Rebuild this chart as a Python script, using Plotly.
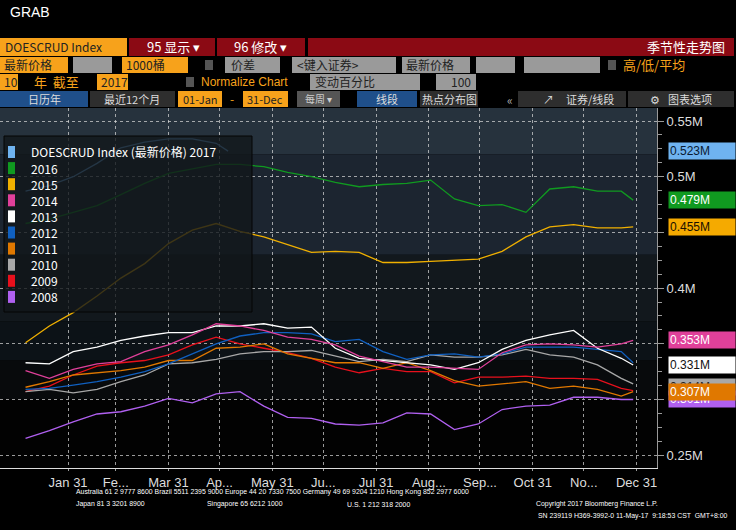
import plotly.graph_objects as go

DATES = ["2017-01-06","2017-01-20","2017-02-03","2017-02-17","2017-03-03","2017-03-17","2017-03-31",
         "2017-04-14","2017-04-28","2017-05-12","2017-05-26","2017-06-09","2017-06-23","2017-07-07",
         "2017-07-21","2017-08-04","2017-08-18","2017-09-01","2017-09-15","2017-09-29","2017-10-13",
         "2017-10-27","2017-11-10","2017-11-24","2017-12-08","2017-12-22","2017-12-29"]
DATES_2017 = DATES[:9] + ["2017-05-05"]

Y2017 = [0.487,0.492,0.500,0.512,0.526,0.531,0.534,0.534,0.530,0.523]
Y2016 = [0.458,0.462,0.468,0.474,0.484,0.494,0.503,0.507,0.511,0.511,0.509,0.504,0.500,0.495,0.491,0.493,0.494,0.497,0.480,0.474,0.475,0.468,0.489,0.491,0.487,0.487,0.479]
Y2015 = [0.351,0.366,0.378,0.393,0.409,0.422,0.440,0.452,0.458,0.451,0.446,0.439,0.432,0.433,0.432,0.423,0.423,0.424,0.425,0.426,0.433,0.446,0.455,0.457,0.454,0.454,0.455]
Y2014 = [0.326,0.319,0.327,0.332,0.334,0.343,0.349,0.358,0.368,0.366,0.362,0.356,0.354,0.349,0.339,0.334,0.329,0.329,0.328,0.327,0.342,0.349,0.350,0.349,0.347,0.350,0.353]
Y2013 = [0.333,0.332,0.343,0.347,0.353,0.357,0.360,0.360,0.366,0.366,0.368,0.364,0.365,0.346,0.337,0.335,0.333,0.331,0.327,0.333,0.345,0.353,0.358,0.362,0.346,0.337,0.331]
Y2012 = [0.309,0.310,0.313,0.316,0.320,0.325,0.332,0.341,0.350,0.357,0.360,0.360,0.359,0.352,0.354,0.343,0.336,0.340,0.341,0.338,0.341,0.347,0.347,0.347,0.345,0.343,0.333]
Y2011 = [0.311,0.316,0.322,0.324,0.326,0.329,0.335,0.335,0.346,0.347,0.350,0.341,0.337,0.333,0.333,0.328,0.333,0.326,0.317,0.312,0.314,0.316,0.310,0.312,0.309,0.303,0.307]
Y2010 = [0.307,0.309,0.306,0.309,0.316,0.322,0.332,0.333,0.336,0.341,0.343,0.343,0.344,0.339,0.334,0.336,0.334,0.340,0.338,0.338,0.340,0.345,0.340,0.338,0.331,0.319,0.314]
Y2009 = [0.307,0.312,0.322,0.330,0.333,0.335,0.340,0.349,0.356,0.350,0.346,0.342,0.337,0.329,0.324,0.328,0.325,0.325,0.315,0.320,0.320,0.321,0.319,0.319,0.318,0.310,0.308]
Y2008 = [0.265,0.272,0.280,0.287,0.289,0.294,0.301,0.297,0.305,0.307,0.294,0.284,0.283,0.278,0.277,0.279,0.288,0.287,0.273,0.278,0.291,0.294,0.295,0.302,0.302,0.300,0.300]

SERIES = [("2008",Y2008,"#b060f0"),("2009",Y2009,"#e8101c"),("2010",Y2010,"#a8a8a8"),
          ("2011",Y2011,"#e07800"),("2012",Y2012,"#1060c0"),("2013",Y2013,"#ffffff"),
          ("2014",Y2014,"#e0409a"),("2015",Y2015,"#f0b000"),("2016",Y2016,"#109a20")]
LEGEND = ["DOESCRUD Index (最新价格) 2017","2016","2015","2014","2013","2012","2011","2010","2009","2008"]
LEGEND_COLORS = ["#6fb3f0","#109a20","#f0b000","#e0409a","#ffffff","#1060c0","#e07800","#a8a8a8","#e8101c","#b060f0"]

XTICKS = ["2017-01-31","2017-02-28","2017-03-31","2017-04-30","2017-05-31","2017-06-30","2017-07-31",
          "2017-08-31","2017-09-30","2017-10-31","2017-11-30","2017-12-31"]
XTEXT = ["Jan 31","Fe...","Mar 31","Ap...","May 31","Ju...","Jul 31","Aug...","Sep...","Oct 31","No...","Dec 31"]
YTICKS = [0.25,0.30,0.35,0.40,0.45,0.50,0.55]
YTEXT = ["0.25M","","","0.4M","","0.5M","0.55M"]

TAGS = [(0.523,"0.523M","#6fb3f0","#0a1a30"),(0.479,"0.479M","#109a20","#ffffff"),
        (0.455,"0.455M","#f5aa00","#1a1000"),(0.353,"0.353M","#e0409a","#ffffff"),
        (0.3115,"0.314M","#a8a8a8","#222222"),(0.3003,"0.301M","#b060f0","#ffffff"),
        (0.331,"0.331M","#ffffff","#111111"),(0.307,"0.307M","#e07800","#ffffff")]

W, H = 736, 530
def px(x): return x / W
def py(y): return 1 - y / H

fig = go.Figure()
for name, ys, c in SERIES:
    fig.add_trace(go.Scatter(x=DATES, y=ys, mode="lines", line=dict(color=c, width=1.3), name=name, showlegend=False))
fig.add_trace(go.Scatter(x=DATES_2017, y=Y2017, mode="lines", line=dict(color="#6fb3f0", width=1.3), showlegend=False))

shapes = []
annots = []
def rect(x0, y0, x1, y1, color):
    shapes.append(dict(type="rect", xref="paper", yref="paper", x0=px(x0), x1=px(x1), y0=py(y1), y1=py(y0),
                       fillcolor=color, line=dict(width=0), layer="below"))
def text(x, y, s, color="#ffffff", size=12, anchor="left", font="Noto Sans CJK SC"):
    annots.append(dict(xref="paper", yref="paper", x=px(x), y=py(y), text=s, showarrow=False,
                       xanchor=anchor, yanchor="middle", font=dict(color=color, size=size, family=font)))

bands = [(0.5617,0.52,"#26323d"),(0.52,0.43,"#1c2530"),(0.43,0.37,"#12181d"),
         (0.37,0.335,"#0c1217"),(0.335,0.30,"#080a0c"),(0.30,0.2385,"#020202")]
for top, bot, c in bands:
    shapes.append(dict(type="rect", xref="paper", yref="y", x0=0, x1=px(657), y0=bot, y1=top,
                       fillcolor=c, line=dict(width=0), layer="below"))

text(8, 12, "GRAB", "#ffffff", 14, font="Liberation Sans")
O = "#f7a21b"; DR = "#8b0a14"; G = "#9a9a9a"; B = "#1f4f8a"; DG = "#2e2e2e"
rect(0, 38, 127, 56, O); text(3, 47, "DOESCRUD Index", "#222", 12)
rect(129, 38, 215, 56, DR); text(145, 47, "95 显示 ▾", "#fff", 13)
rect(217, 38, 305, 56, DR); text(232, 47, "96 修改 ▾", "#fff", 13)
rect(308, 38, 734, 56, DR); text(727, 47, "季节性走势图", "#fff", 13, "right")
rect(0, 57, 68, 73, O); text(2, 65, "最新价格", "#222", 12)
rect(73, 57, 112, 73, G)
rect(122, 57, 188, 73, O); text(124, 65, "1000桶", "#222", 12)
rect(205, 60, 213, 70, "#555")
rect(225, 57, 280, 73, G); text(229, 65, "价差", "#222", 12)
rect(292, 57, 396, 73, G); text(295, 65, "<键入证券>", "#222", 12)
rect(402, 57, 470, 73, G); text(404, 65, "最新价格", "#222", 12)
rect(476, 57, 515, 73, G); rect(524, 57, 600, 73, G)
rect(608, 60, 616, 70, "#555"); text(621, 65, "高/低/平均", O, 13)
rect(0, 74, 18, 90, O); text(2, 82, "10", "#222", 12)
text(32, 82, "年  截至", O, 13)
rect(97, 74, 128, 90, O); text(99, 82, "2017", "#222", 12)
rect(186, 77, 194, 87, "#555"); text(199, 82, "Normalize Chart", O, 12, font="Liberation Sans")
rect(310, 74, 420, 90, G); text(313, 82, "变动百分比", "#222", 12)
rect(436, 74, 476, 90, G); text(473, 82, "100", "#222", 12, "right")
rect(0, 91, 88, 107, B); text(44, 99, "日历年", "#ddd", 11, "center")
rect(90, 91, 175, 107, DG); text(132, 99, "最近12个月", "#ddd", 11, "center")
rect(178, 91, 222, 107, O); text(200, 99, "01-Jan", "#222", 11, "center")
text(232, 99, "-", O, 12, "center")
rect(243, 91, 288, 107, O); text(265, 99, "31-Dec", "#222", 11, "center")
rect(297, 91, 340, 107, "#555"); text(318, 99, "每周 ▾", "#ccc", 10, "center")
rect(357, 91, 417, 107, B); text(387, 99, "线段", "#ddd", 11, "center")
rect(420, 91, 478, 107, DG); text(449, 99, "热点分布图", "#ddd", 11, "center")
text(510, 100, "«", "#aaa", 12, "center")
rect(518, 91, 626, 107, DG); text(590, 99, "证券/线段", "#ddd", 11, "center"); text(548, 99, "↗", "#ddd", 11, "center")
rect(628, 91, 734, 107, DG); text(690, 99, "图表选项", "#ddd", 11, "center"); text(655, 99, "⚙", "#ddd", 11, "center")

shapes.append(dict(type="rect", xref="paper", yref="paper", x0=px(4), x1=px(252), y0=py(312), y1=py(136),
                   fillcolor="rgba(18,22,26,0.8)", line=dict(color="#050505", width=1), layer="above"))
for i, (lab, c) in enumerate(zip(LEGEND, LEGEND_COLORS)):
    yy = 152 + i * 16.1
    shapes.append(dict(type="rect", xref="paper", yref="paper", x0=px(8), x1=px(15), y0=py(yy + 6), y1=py(yy - 6),
                       fillcolor=c, line=dict(width=0), layer="above"))
    text(29, yy, lab, "#ffffff", 12)

for v, s, bg, fg in TAGS:
    annots.append(dict(xref="paper", yref="y", x=px(668), y=v, text=s, showarrow=False, xanchor="left",
                       yanchor="middle", bgcolor=bg, font=dict(color=fg, size=12, family="Liberation Sans"),
                       width=64, align="left", borderpad=1))

ft = "Liberation Sans"
text(74, 492, "Australia 61 2 9777 8600 Brazil 5511 2395 9000 Europe 44 20 7330 7500 Germany 49 69 9204 1210 Hong Kong 852 2977 6000", "#fff", 6.9, font=ft)
text(74, 504, "Japan 81 3 3201 8900", "#fff", 6.9, font=ft)
text(205, 504, "Singapore 65 6212 1000", "#fff", 6.9, font=ft)
text(345, 504, "U.S. 1 212 318 2000", "#fff", 6.9, font=ft)
text(660, 504, "Copyright 2017 Bloomberg Finance L.P.", "#fff", 6.9, "right", font=ft)
text(730, 516, "SN 239119 H369-3992-0 11-May-17  9:18:53 CST  GMT+8:00", "#fff", 6.9, "right", font=ft)

fig.update_layout(
    width=W, height=H, margin=dict(l=0, r=0, t=0, b=0),
    paper_bgcolor="#000000", plot_bgcolor="rgba(0,0,0,0)",
    shapes=shapes, annotations=annots, showlegend=False,
    xaxis=dict(domain=[0, px(657)], range=["2016-12-22", "2018-01-12"], tickvals=XTICKS, ticktext=XTEXT,
               showgrid=True, gridcolor="rgba(220,220,220,0.7)", griddash="dot", gridwidth=1,
               tickfont=dict(color="#dddddd", size=13, family="Liberation Sans"),
               ticks="outside", ticklen=2, tickcolor="#999", showline=True, linecolor="#dddddd", zeroline=False),
    yaxis=dict(domain=[py(468), py(108)], range=[0.2385, 0.5617], side="right", tickvals=YTICKS, ticktext=YTEXT,
               showgrid=True, gridcolor="rgba(220,220,220,0.7)", griddash="dot", gridwidth=1,
               tickfont=dict(color="#dddddd", size=13, family="Liberation Sans"),
               ticks="outside", ticklen=6, tickcolor="#999", showline=True, linecolor="#999999",
               minor=dict(dtick=0.0125, ticks="outside", ticklen=4, tickcolor="#999", showgrid=False),
               zeroline=False),
)
fig.write_html("out.html", config={"displayModeBar": False},
               post_script="document.body.style.margin='0';document.body.style.background='#000';document.body.style.overflow='hidden';")
